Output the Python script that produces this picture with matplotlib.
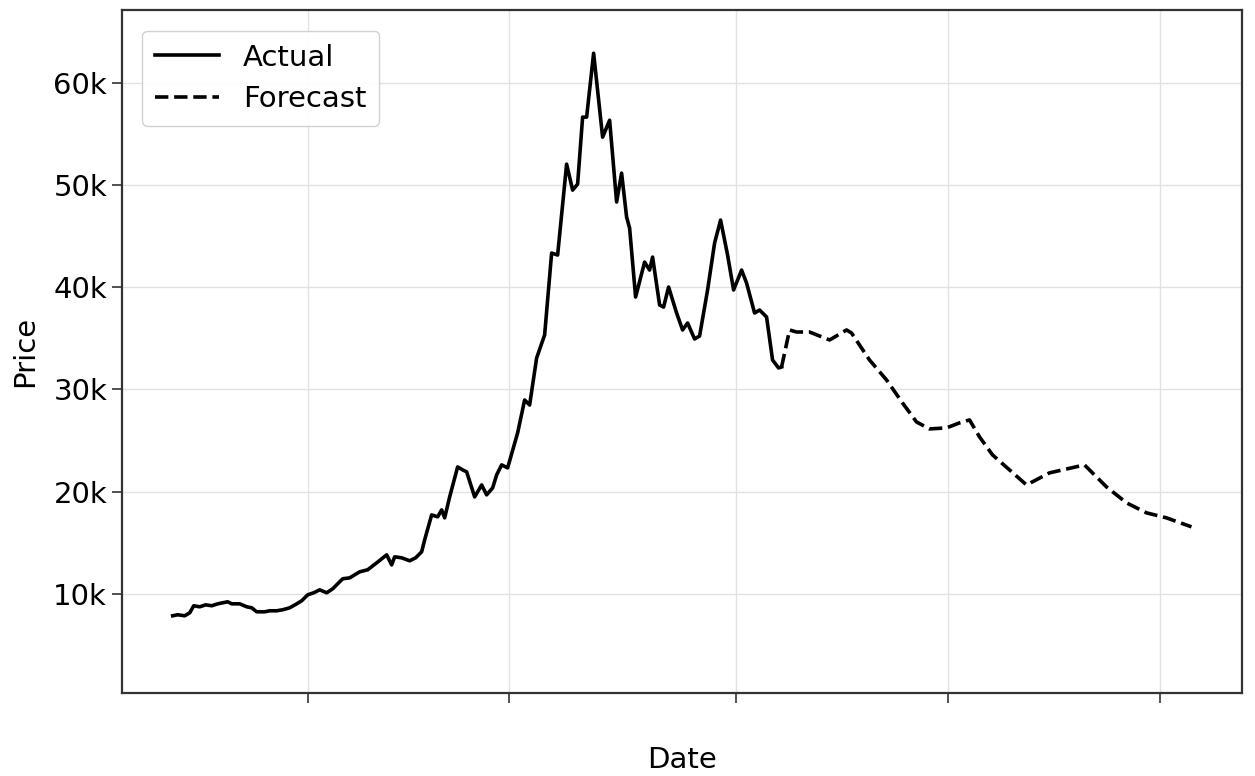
import matplotlib
matplotlib.use("Agg")
import matplotlib.pyplot as plt
from matplotlib.ticker import FuncFormatter

# Data (x in days from first point, price in thousands)
actual_day = [0, 5, 12, 17, 21, 27, 33, 39, 45, 55, 59, 67, 74, 79, 84, 92, 97, 104,
              110, 117, 124, 129, 135, 141, 147, 154, 160, 170, 177, 187, 195, 204,
              214, 219, 222, 229, 237, 243, 249, 252, 259, 265, 269, 272, 277, 285,
              290, 294, 302, 309, 314, 320, 324, 329, 335, 345, 352, 357, 364, 372,
              379, 385, 394, 400, 405, 410, 414, 421, 430, 437, 444, 449, 454, 457,
              463, 472, 477, 480, 487, 491, 496, 504, 510, 515, 522, 527, 535, 542,
              548, 555, 561, 569, 574, 582, 587, 594, 600, 606, 609]
actual_price = [7.85, 7.95, 7.85, 8.14, 8.83, 8.73, 8.92, 8.83, 9.02, 9.22, 9.02, 9.02,
                8.73, 8.63, 8.24, 8.24, 8.34, 8.34, 8.44, 8.63, 9.02, 9.32, 9.90,
                10.10, 10.39, 10.10, 10.49, 11.47, 11.56, 12.15, 12.35, 13.03, 13.81,
                12.83, 13.62, 13.52, 13.23, 13.52, 14.11, 15.28, 17.72, 17.53, 18.21,
                17.43, 19.48, 22.41, 22.12, 21.93, 19.48, 20.65, 19.68, 20.36, 21.63,
                22.61, 22.32, 25.74, 28.96, 28.47, 33.07, 35.32, 43.33, 43.14, 52.03,
                49.49, 50.08, 56.63, 56.63, 62.88, 54.67, 56.33, 48.32, 51.15, 46.85,
                45.78, 39.03, 42.45, 41.67, 42.94, 38.25, 38.05, 40.01, 37.47, 35.81,
                36.49, 34.93, 35.22, 39.72, 44.31, 46.56, 43.14, 39.72, 41.67, 40.40,
                37.47, 37.76, 37.08, 32.87, 32.09, 32.19]

forecast_day = [609, 617, 624, 637, 657, 674, 679, 697, 714, 730, 744, 757, 774, 787,
                797, 807, 820, 837, 854, 877, 912, 934, 954, 974, 994, 1019]
forecast_price = [32.19, 35.81, 35.61, 35.61, 34.83, 35.81, 35.51, 32.87, 30.92, 28.67,
                  26.81, 26.13, 26.23, 26.72, 27.01, 25.35, 23.59, 22.12, 20.65, 21.83,
                  22.61, 20.46, 18.90, 17.92, 17.43, 16.55]

xtick_days = [135, 336, 563, 775, 988]
ytick_values = [10, 20, 30, 40, 50, 60]

fig = plt.figure(figsize=(12.55, 7.76), dpi=100)
ax = fig.add_axes([0.097, 0.107, 0.893, 0.880])

ax.plot(actual_day, [p * 1000 for p in actual_price],
        color='black', linewidth=2.6, label='Actual')
ax.plot(forecast_day, [p * 1000 for p in forecast_price],
        color='black', linewidth=2.6, linestyle='--', label='Forecast')

ax.set_xlim(-51, 1070)
ax.set_ylim(300, 67100)
ax.set_xticks(xtick_days)
ax.set_xticklabels([''] * len(xtick_days))
ax.set_yticks([v * 1000 for v in ytick_values])
ax.yaxis.set_major_formatter(FuncFormatter(lambda v, pos: f'{int(v / 1000)}k'))

ax.grid(True, color='#e2e2e2', linewidth=1.0)
ax.set_axisbelow(True)
for s in ax.spines.values():
    s.set_linewidth(1.6)
    s.set_color('#333333')

ax.tick_params(axis='both', labelsize=21, length=7, width=1.2, color='#333333')
ax.set_xlabel('Date', fontsize=21, labelpad=28)
ax.set_ylabel('Price', fontsize=21, labelpad=10)

ax.legend(loc='upper left', fontsize=21, handlelength=2.2, borderaxespad=0.7,
          labelspacing=0.45, borderpad=0.45, framealpha=0.9, edgecolor='#cccccc')

fig.savefig('out.png', dpi=100)
